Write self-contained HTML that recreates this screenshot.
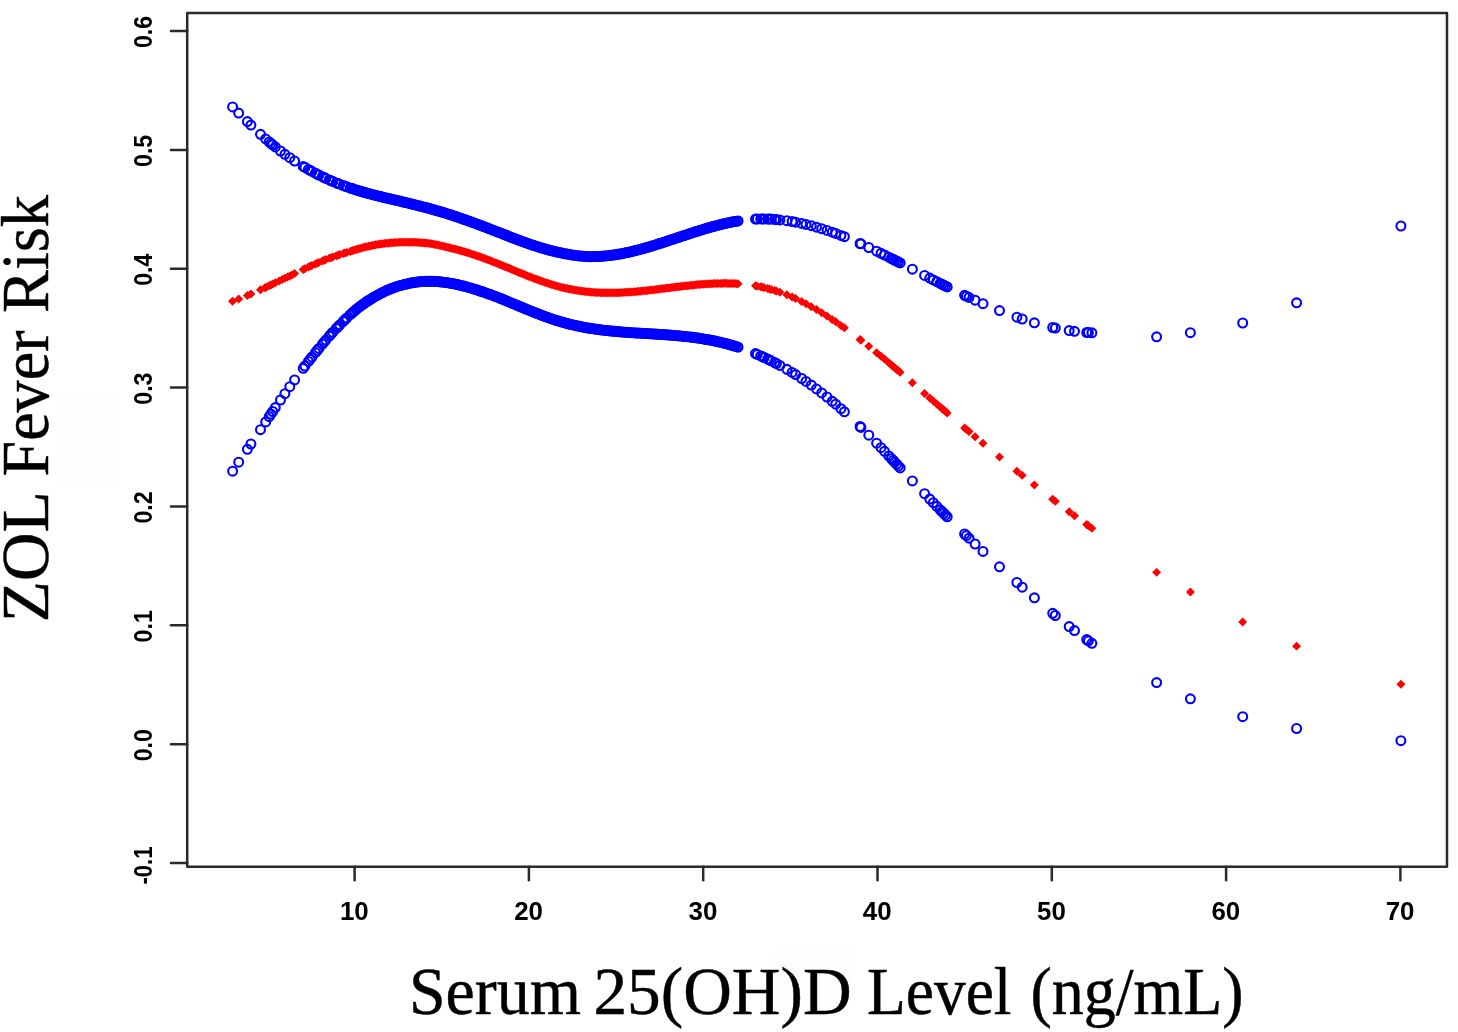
<!DOCTYPE html>
<html><head><meta charset="utf-8"><title>ZOL Fever Risk vs Serum 25(OH)D Level</title>
<style>
html,body{margin:0;padding:0;background:#fff;}
body{width:1458px;height:1032px;overflow:hidden;position:relative;}
svg{position:absolute;left:0;top:0;display:block;}
.tick{font-family:"Liberation Sans",Arial,sans-serif;font-weight:bold;font-size:25px;fill:#000;}
.ax{font-family:"Liberation Serif","Times New Roman",serif;fill:#000;stroke:#000;stroke-width:0.45px;}
</style></head><body>
<svg width="1458" height="1032" viewBox="0 0 1458 1032">
<rect width="1458" height="1032" fill="#fff"/>
<rect x="62" y="394.2" width="54" height="91.6" fill="#fdfdfd"/>
<rect x="772.5" y="950" width="80.7" height="57.7" fill="#fdfdfd"/>
<g fill="none" stroke="#2a2a2a" stroke-width="2.5" stroke-linejoin="round" stroke-linecap="round">
<rect x="187.2" y="13.05" width="1259.8" height="853.75"/>
<line x1="171.0" y1="863.1" x2="187.2" y2="863.1"/><line x1="171.0" y1="744.2" x2="187.2" y2="744.2"/><line x1="171.0" y1="625.3" x2="187.2" y2="625.3"/><line x1="171.0" y1="506.5" x2="187.2" y2="506.5"/><line x1="171.0" y1="387.6" x2="187.2" y2="387.6"/><line x1="171.0" y1="268.7" x2="187.2" y2="268.7"/><line x1="171.0" y1="149.9" x2="187.2" y2="149.9"/><line x1="171.0" y1="31.0" x2="187.2" y2="31.0"/><line x1="354.6" y1="866.8" x2="354.6" y2="880.2"/><line x1="528.9" y1="866.8" x2="528.9" y2="880.2"/><line x1="703.2" y1="866.8" x2="703.2" y2="880.2"/><line x1="877.5" y1="866.8" x2="877.5" y2="880.2"/><line x1="1051.8" y1="866.8" x2="1051.8" y2="880.2"/><line x1="1226.1" y1="866.8" x2="1226.1" y2="880.2"/><line x1="1400.4" y1="866.8" x2="1400.4" y2="880.2"/>
</g>
<g class="tick"><text transform="translate(152 865.5) rotate(-90)" text-anchor="middle" textLength="38.0" lengthAdjust="spacingAndGlyphs">-0.1</text><text transform="translate(152 745.2) rotate(-90)" text-anchor="middle" textLength="32.2" lengthAdjust="spacingAndGlyphs">0.0</text><text transform="translate(152 626.3) rotate(-90)" text-anchor="middle" textLength="32.2" lengthAdjust="spacingAndGlyphs">0.1</text><text transform="translate(152 507.5) rotate(-90)" text-anchor="middle" textLength="32.2" lengthAdjust="spacingAndGlyphs">0.2</text><text transform="translate(152 388.6) rotate(-90)" text-anchor="middle" textLength="32.2" lengthAdjust="spacingAndGlyphs">0.3</text><text transform="translate(152 269.7) rotate(-90)" text-anchor="middle" textLength="32.2" lengthAdjust="spacingAndGlyphs">0.4</text><text transform="translate(152 150.9) rotate(-90)" text-anchor="middle" textLength="32.2" lengthAdjust="spacingAndGlyphs">0.5</text><text transform="translate(152 32.0) rotate(-90)" text-anchor="middle" textLength="32.2" lengthAdjust="spacingAndGlyphs">0.6</text><text x="354.3" y="920" text-anchor="middle" textLength="28.8" lengthAdjust="spacingAndGlyphs">10</text><text x="528.6" y="920" text-anchor="middle" textLength="28.8" lengthAdjust="spacingAndGlyphs">20</text><text x="702.9" y="920" text-anchor="middle" textLength="28.8" lengthAdjust="spacingAndGlyphs">30</text><text x="877.2" y="920" text-anchor="middle" textLength="28.8" lengthAdjust="spacingAndGlyphs">40</text><text x="1051.5" y="920" text-anchor="middle" textLength="28.8" lengthAdjust="spacingAndGlyphs">50</text><text x="1225.8" y="920" text-anchor="middle" textLength="28.8" lengthAdjust="spacingAndGlyphs">60</text><text x="1400.1" y="920" text-anchor="middle" textLength="28.8" lengthAdjust="spacingAndGlyphs">70</text></g>
<g fill="none" stroke="#0000ff" stroke-width="2.1"><circle cx="232.6" cy="106.9" r="4.45"/><circle cx="238.7" cy="113.1" r="4.45"/><circle cx="247.4" cy="121.6" r="4.45"/><circle cx="250.9" cy="125.1" r="4.45"/><circle cx="260.5" cy="134.3" r="4.45"/><circle cx="265.7" cy="138.9" r="4.45"/><circle cx="269.2" cy="141.9" r="4.45"/><circle cx="270.9" cy="143.4" r="4.45"/><circle cx="272.7" cy="144.8" r="4.45"/><circle cx="275.3" cy="146.9" r="4.45"/><circle cx="280.5" cy="151.0" r="4.45"/><circle cx="284.9" cy="154.3" r="4.45"/><circle cx="289.8" cy="157.7" r="4.45"/><circle cx="294.6" cy="161.0" r="4.45"/><circle cx="303.2" cy="166.4" r="4.45"/><circle cx="304.9" cy="167.4" r="4.45"/><circle cx="308.4" cy="169.4" r="4.45"/><circle cx="310.2" cy="170.4" r="4.45"/><circle cx="311.9" cy="171.4" r="4.45"/><circle cx="315.4" cy="173.2" r="4.45"/><circle cx="317.1" cy="174.1" r="4.45"/><circle cx="318.9" cy="175.0" r="4.45"/><circle cx="322.4" cy="176.7" r="4.45"/><circle cx="324.1" cy="177.5" r="4.45"/><circle cx="325.8" cy="178.4" r="4.45"/><circle cx="329.3" cy="179.9" r="4.45"/><circle cx="331.1" cy="180.7" r="4.45"/><circle cx="332.8" cy="181.4" r="4.45"/><circle cx="336.3" cy="182.9" r="4.45"/><circle cx="338.0" cy="183.5" r="4.45"/><circle cx="339.8" cy="184.2" r="4.45"/><circle cx="343.3" cy="185.5" r="4.45"/><circle cx="345.0" cy="186.2" r="4.45"/><circle cx="346.8" cy="186.8" r="4.45"/><circle cx="350.2" cy="188.0" r="4.45"/><circle cx="352.0" cy="188.6" r="4.45"/><circle cx="352.9" cy="188.8" r="4.45"/><circle cx="354.6" cy="189.4" r="4.45"/><circle cx="356.3" cy="189.9" r="4.45"/><circle cx="358.1" cy="190.5" r="4.45"/><circle cx="359.8" cy="191.0" r="4.45"/><circle cx="361.6" cy="191.5" r="4.45"/><circle cx="363.3" cy="192.0" r="4.45"/><circle cx="365.1" cy="192.5" r="4.45"/><circle cx="366.8" cy="193.0" r="4.45"/><circle cx="368.5" cy="193.5" r="4.45"/><circle cx="370.3" cy="193.9" r="4.45"/><circle cx="372.0" cy="194.4" r="4.45"/><circle cx="373.8" cy="194.9" r="4.45"/><circle cx="375.5" cy="195.3" r="4.45"/><circle cx="377.3" cy="195.7" r="4.45"/><circle cx="379.0" cy="196.2" r="4.45"/><circle cx="380.7" cy="196.6" r="4.45"/><circle cx="382.5" cy="197.0" r="4.45"/><circle cx="384.2" cy="197.5" r="4.45"/><circle cx="386.0" cy="197.9" r="4.45"/><circle cx="387.7" cy="198.3" r="4.45"/><circle cx="389.5" cy="198.7" r="4.45"/><circle cx="391.2" cy="199.1" r="4.45"/><circle cx="392.9" cy="199.5" r="4.45"/><circle cx="394.7" cy="199.9" r="4.45"/><circle cx="396.4" cy="200.3" r="4.45"/><circle cx="398.2" cy="200.7" r="4.45"/><circle cx="399.9" cy="201.1" r="4.45"/><circle cx="401.7" cy="201.5" r="4.45"/><circle cx="403.4" cy="202.0" r="4.45"/><circle cx="405.1" cy="202.4" r="4.45"/><circle cx="406.9" cy="202.8" r="4.45"/><circle cx="408.6" cy="203.2" r="4.45"/><circle cx="410.4" cy="203.7" r="4.45"/><circle cx="412.1" cy="204.1" r="4.45"/><circle cx="413.9" cy="204.5" r="4.45"/><circle cx="415.6" cy="204.9" r="4.45"/><circle cx="417.3" cy="205.4" r="4.45"/><circle cx="419.1" cy="205.8" r="4.45"/><circle cx="420.8" cy="206.3" r="4.45"/><circle cx="422.6" cy="206.7" r="4.45"/><circle cx="424.3" cy="207.2" r="4.45"/><circle cx="426.1" cy="207.6" r="4.45"/><circle cx="427.8" cy="208.1" r="4.45"/><circle cx="429.5" cy="208.6" r="4.45"/><circle cx="431.3" cy="209.1" r="4.45"/><circle cx="433.0" cy="209.6" r="4.45"/><circle cx="434.8" cy="210.0" r="4.45"/><circle cx="436.5" cy="210.5" r="4.45"/><circle cx="438.3" cy="211.0" r="4.45"/><circle cx="440.0" cy="211.6" r="4.45"/><circle cx="441.8" cy="212.1" r="4.45"/><circle cx="443.5" cy="212.6" r="4.45"/><circle cx="445.2" cy="213.1" r="4.45"/><circle cx="447.0" cy="213.7" r="4.45"/><circle cx="448.7" cy="214.2" r="4.45"/><circle cx="450.5" cy="214.8" r="4.45"/><circle cx="452.2" cy="215.3" r="4.45"/><circle cx="454.0" cy="215.9" r="4.45"/><circle cx="455.7" cy="216.5" r="4.45"/><circle cx="457.4" cy="217.1" r="4.45"/><circle cx="459.2" cy="217.7" r="4.45"/><circle cx="460.9" cy="218.3" r="4.45"/><circle cx="462.7" cy="218.9" r="4.45"/><circle cx="464.4" cy="219.5" r="4.45"/><circle cx="466.2" cy="220.1" r="4.45"/><circle cx="467.9" cy="220.7" r="4.45"/><circle cx="469.6" cy="221.3" r="4.45"/><circle cx="471.4" cy="222.0" r="4.45"/><circle cx="473.1" cy="222.6" r="4.45"/><circle cx="474.9" cy="223.2" r="4.45"/><circle cx="476.6" cy="223.9" r="4.45"/><circle cx="478.4" cy="224.5" r="4.45"/><circle cx="480.1" cy="225.2" r="4.45"/><circle cx="481.8" cy="225.8" r="4.45"/><circle cx="483.6" cy="226.5" r="4.45"/><circle cx="485.3" cy="227.2" r="4.45"/><circle cx="487.1" cy="227.8" r="4.45"/><circle cx="488.8" cy="228.5" r="4.45"/><circle cx="490.6" cy="229.2" r="4.45"/><circle cx="492.3" cy="229.9" r="4.45"/><circle cx="494.0" cy="230.5" r="4.45"/><circle cx="495.8" cy="231.2" r="4.45"/><circle cx="497.5" cy="231.9" r="4.45"/><circle cx="499.3" cy="232.6" r="4.45"/><circle cx="501.0" cy="233.2" r="4.45"/><circle cx="502.8" cy="233.9" r="4.45"/><circle cx="504.5" cy="234.6" r="4.45"/><circle cx="506.2" cy="235.3" r="4.45"/><circle cx="508.0" cy="236.0" r="4.45"/><circle cx="509.7" cy="236.7" r="4.45"/><circle cx="511.5" cy="237.4" r="4.45"/><circle cx="513.2" cy="238.0" r="4.45"/><circle cx="515.0" cy="238.7" r="4.45"/><circle cx="516.7" cy="239.4" r="4.45"/><circle cx="518.4" cy="240.0" r="4.45"/><circle cx="520.2" cy="240.7" r="4.45"/><circle cx="521.9" cy="241.3" r="4.45"/><circle cx="523.7" cy="241.9" r="4.45"/><circle cx="525.4" cy="242.6" r="4.45"/><circle cx="527.2" cy="243.2" r="4.45"/><circle cx="528.9" cy="243.8" r="4.45"/><circle cx="530.6" cy="244.4" r="4.45"/><circle cx="532.4" cy="245.0" r="4.45"/><circle cx="534.1" cy="245.6" r="4.45"/><circle cx="535.9" cy="246.2" r="4.45"/><circle cx="537.6" cy="246.7" r="4.45"/><circle cx="539.4" cy="247.3" r="4.45"/><circle cx="541.1" cy="247.8" r="4.45"/><circle cx="542.8" cy="248.3" r="4.45"/><circle cx="544.6" cy="248.8" r="4.45"/><circle cx="546.3" cy="249.3" r="4.45"/><circle cx="548.1" cy="249.8" r="4.45"/><circle cx="549.8" cy="250.3" r="4.45"/><circle cx="551.6" cy="250.7" r="4.45"/><circle cx="553.3" cy="251.1" r="4.45"/><circle cx="555.0" cy="251.6" r="4.45"/><circle cx="556.8" cy="252.0" r="4.45"/><circle cx="558.5" cy="252.3" r="4.45"/><circle cx="560.3" cy="252.7" r="4.45"/><circle cx="562.0" cy="253.1" r="4.45"/><circle cx="563.8" cy="253.5" r="4.45"/><circle cx="565.5" cy="253.8" r="4.45"/><circle cx="567.2" cy="254.1" r="4.45"/><circle cx="569.0" cy="254.4" r="4.45"/><circle cx="570.7" cy="254.7" r="4.45"/><circle cx="572.5" cy="255.0" r="4.45"/><circle cx="574.2" cy="255.2" r="4.45"/><circle cx="576.0" cy="255.5" r="4.45"/><circle cx="577.7" cy="255.7" r="4.45"/><circle cx="579.4" cy="255.9" r="4.45"/><circle cx="581.2" cy="256.1" r="4.45"/><circle cx="582.9" cy="256.2" r="4.45"/><circle cx="584.7" cy="256.4" r="4.45"/><circle cx="586.4" cy="256.5" r="4.45"/><circle cx="588.2" cy="256.6" r="4.45"/><circle cx="589.9" cy="256.7" r="4.45"/><circle cx="591.6" cy="256.7" r="4.45"/><circle cx="593.4" cy="256.6" r="4.45"/><circle cx="595.1" cy="256.6" r="4.45"/><circle cx="596.9" cy="256.5" r="4.45"/><circle cx="598.6" cy="256.4" r="4.45"/><circle cx="600.4" cy="256.3" r="4.45"/><circle cx="602.1" cy="256.2" r="4.45"/><circle cx="603.8" cy="256.1" r="4.45"/><circle cx="605.6" cy="255.9" r="4.45"/><circle cx="607.3" cy="255.7" r="4.45"/><circle cx="609.1" cy="255.5" r="4.45"/><circle cx="610.8" cy="255.3" r="4.45"/><circle cx="612.6" cy="255.1" r="4.45"/><circle cx="614.3" cy="254.9" r="4.45"/><circle cx="616.0" cy="254.6" r="4.45"/><circle cx="617.8" cy="254.3" r="4.45"/><circle cx="619.5" cy="254.0" r="4.45"/><circle cx="621.3" cy="253.7" r="4.45"/><circle cx="623.0" cy="253.4" r="4.45"/><circle cx="624.8" cy="253.0" r="4.45"/><circle cx="626.5" cy="252.6" r="4.45"/><circle cx="628.3" cy="252.3" r="4.45"/><circle cx="630.0" cy="251.9" r="4.45"/><circle cx="631.7" cy="251.5" r="4.45"/><circle cx="633.5" cy="251.1" r="4.45"/><circle cx="635.2" cy="250.6" r="4.45"/><circle cx="637.0" cy="250.2" r="4.45"/><circle cx="638.7" cy="249.7" r="4.45"/><circle cx="640.5" cy="249.3" r="4.45"/><circle cx="642.2" cy="248.8" r="4.45"/><circle cx="643.9" cy="248.3" r="4.45"/><circle cx="645.7" cy="247.8" r="4.45"/><circle cx="647.4" cy="247.3" r="4.45"/><circle cx="649.2" cy="246.8" r="4.45"/><circle cx="650.9" cy="246.3" r="4.45"/><circle cx="652.7" cy="245.7" r="4.45"/><circle cx="654.4" cy="245.2" r="4.45"/><circle cx="656.1" cy="244.7" r="4.45"/><circle cx="657.9" cy="244.1" r="4.45"/><circle cx="659.6" cy="243.6" r="4.45"/><circle cx="661.4" cy="243.0" r="4.45"/><circle cx="663.1" cy="242.4" r="4.45"/><circle cx="664.9" cy="241.9" r="4.45"/><circle cx="666.6" cy="241.3" r="4.45"/><circle cx="668.3" cy="240.7" r="4.45"/><circle cx="670.1" cy="240.2" r="4.45"/><circle cx="671.8" cy="239.6" r="4.45"/><circle cx="673.6" cy="239.0" r="4.45"/><circle cx="675.3" cy="238.4" r="4.45"/><circle cx="677.1" cy="237.8" r="4.45"/><circle cx="678.8" cy="237.3" r="4.45"/><circle cx="680.5" cy="236.7" r="4.45"/><circle cx="682.3" cy="236.1" r="4.45"/><circle cx="684.0" cy="235.5" r="4.45"/><circle cx="685.8" cy="234.9" r="4.45"/><circle cx="687.5" cy="234.4" r="4.45"/><circle cx="689.3" cy="233.8" r="4.45"/><circle cx="691.0" cy="233.2" r="4.45"/><circle cx="692.7" cy="232.7" r="4.45"/><circle cx="694.5" cy="232.1" r="4.45"/><circle cx="696.2" cy="231.5" r="4.45"/><circle cx="698.0" cy="231.0" r="4.45"/><circle cx="699.7" cy="230.4" r="4.45"/><circle cx="701.5" cy="229.9" r="4.45"/><circle cx="703.2" cy="229.4" r="4.45"/><circle cx="704.9" cy="228.8" r="4.45"/><circle cx="706.7" cy="228.3" r="4.45"/><circle cx="708.4" cy="227.8" r="4.45"/><circle cx="710.2" cy="227.3" r="4.45"/><circle cx="711.9" cy="226.8" r="4.45"/><circle cx="713.7" cy="226.3" r="4.45"/><circle cx="715.4" cy="225.9" r="4.45"/><circle cx="717.1" cy="225.4" r="4.45"/><circle cx="718.9" cy="225.0" r="4.45"/><circle cx="720.6" cy="224.5" r="4.45"/><circle cx="722.4" cy="224.1" r="4.45"/><circle cx="724.1" cy="223.7" r="4.45"/><circle cx="725.9" cy="223.3" r="4.45"/><circle cx="727.6" cy="222.9" r="4.45"/><circle cx="729.3" cy="222.5" r="4.45"/><circle cx="731.1" cy="222.2" r="4.45"/><circle cx="732.8" cy="221.8" r="4.45"/><circle cx="734.6" cy="221.5" r="4.45"/><circle cx="736.3" cy="221.2" r="4.45"/><circle cx="738.1" cy="220.9" r="4.45"/><circle cx="755.5" cy="219.1" r="4.45"/><circle cx="757.2" cy="219.0" r="4.45"/><circle cx="760.7" cy="218.9" r="4.45"/><circle cx="762.5" cy="218.9" r="4.45"/><circle cx="764.2" cy="218.9" r="4.45"/><circle cx="767.7" cy="219.0" r="4.45"/><circle cx="769.4" cy="219.1" r="4.45"/><circle cx="771.2" cy="219.1" r="4.45"/><circle cx="774.7" cy="219.4" r="4.45"/><circle cx="776.4" cy="219.5" r="4.45"/><circle cx="779.9" cy="219.9" r="4.45"/><circle cx="786.9" cy="220.7" r="4.45"/><circle cx="792.1" cy="221.5" r="4.45"/><circle cx="795.6" cy="222.2" r="4.45"/><circle cx="801.7" cy="223.4" r="4.45"/><circle cx="806.0" cy="224.4" r="4.45"/><circle cx="811.3" cy="225.7" r="4.45"/><circle cx="816.5" cy="227.2" r="4.45"/><circle cx="821.7" cy="228.7" r="4.45"/><circle cx="827.0" cy="230.4" r="4.45"/><circle cx="832.2" cy="232.2" r="4.45"/><circle cx="835.7" cy="233.4" r="4.45"/><circle cx="840.9" cy="235.4" r="4.45"/><circle cx="844.4" cy="236.7" r="4.45"/><circle cx="860.1" cy="243.5" r="4.45"/><circle cx="860.9" cy="243.8" r="4.45"/><circle cx="868.8" cy="247.5" r="4.45"/><circle cx="876.6" cy="251.2" r="4.45"/><circle cx="881.0" cy="253.3" r="4.45"/><circle cx="884.5" cy="255.0" r="4.45"/><circle cx="888.8" cy="257.2" r="4.45"/><circle cx="891.4" cy="258.5" r="4.45"/><circle cx="893.2" cy="259.4" r="4.45"/><circle cx="894.9" cy="260.3" r="4.45"/><circle cx="896.7" cy="261.1" r="4.45"/><circle cx="898.4" cy="262.0" r="4.45"/><circle cx="900.2" cy="262.9" r="4.45"/><circle cx="912.4" cy="269.2" r="4.45"/><circle cx="924.6" cy="275.4" r="4.45"/><circle cx="929.8" cy="278.1" r="4.45"/><circle cx="933.3" cy="279.9" r="4.45"/><circle cx="936.8" cy="281.7" r="4.45"/><circle cx="940.2" cy="283.4" r="4.45"/><circle cx="942.0" cy="284.3" r="4.45"/><circle cx="943.7" cy="285.2" r="4.45"/><circle cx="945.5" cy="286.0" r="4.45"/><circle cx="947.2" cy="286.9" r="4.45"/><circle cx="964.6" cy="295.3" r="4.45"/><circle cx="966.4" cy="296.2" r="4.45"/><circle cx="969.0" cy="297.4" r="4.45"/><circle cx="975.1" cy="300.2" r="4.45"/><circle cx="983.0" cy="303.7" r="4.45"/><circle cx="999.5" cy="310.6" r="4.45"/><circle cx="1016.9" cy="317.2" r="4.45"/><circle cx="1022.2" cy="319.0" r="4.45"/><circle cx="1034.4" cy="322.8" r="4.45"/><circle cx="1052.7" cy="327.5" r="4.45"/><circle cx="1055.3" cy="328.1" r="4.45"/><circle cx="1069.2" cy="330.6" r="4.45"/><circle cx="1074.5" cy="331.3" r="4.45"/><circle cx="1086.7" cy="332.5" r="4.45"/><circle cx="1088.4" cy="332.6" r="4.45"/><circle cx="1091.9" cy="332.8" r="4.45"/><circle cx="1156.6" cy="336.8" r="4.45"/><circle cx="1190.4" cy="332.7" r="4.45"/><circle cx="1242.7" cy="323.0" r="4.45"/><circle cx="1296.6" cy="302.8" r="4.45"/><circle cx="1400.9" cy="226.0" r="4.45"/></g>
<g fill="none" stroke="#0000ff" stroke-width="2.1"><circle cx="232.6" cy="471.2" r="4.45"/><circle cx="238.7" cy="462.2" r="4.45"/><circle cx="247.4" cy="449.3" r="4.45"/><circle cx="250.9" cy="444.0" r="4.45"/><circle cx="260.5" cy="429.7" r="4.45"/><circle cx="265.7" cy="421.9" r="4.45"/><circle cx="269.2" cy="416.7" r="4.45"/><circle cx="270.9" cy="414.1" r="4.45"/><circle cx="272.7" cy="411.5" r="4.45"/><circle cx="275.3" cy="407.6" r="4.45"/><circle cx="280.5" cy="400.0" r="4.45"/><circle cx="284.9" cy="393.7" r="4.45"/><circle cx="289.8" cy="386.7" r="4.45"/><circle cx="294.6" cy="379.9" r="4.45"/><circle cx="303.2" cy="368.3" r="4.45"/><circle cx="304.9" cy="366.0" r="4.45"/><circle cx="308.4" cy="361.4" r="4.45"/><circle cx="310.2" cy="359.2" r="4.45"/><circle cx="311.9" cy="357.0" r="4.45"/><circle cx="315.4" cy="352.6" r="4.45"/><circle cx="317.1" cy="350.5" r="4.45"/><circle cx="318.9" cy="348.4" r="4.45"/><circle cx="322.4" cy="344.2" r="4.45"/><circle cx="324.1" cy="342.1" r="4.45"/><circle cx="325.8" cy="340.1" r="4.45"/><circle cx="329.3" cy="336.1" r="4.45"/><circle cx="331.1" cy="334.1" r="4.45"/><circle cx="332.8" cy="332.2" r="4.45"/><circle cx="336.3" cy="328.4" r="4.45"/><circle cx="338.0" cy="326.6" r="4.45"/><circle cx="339.8" cy="324.8" r="4.45"/><circle cx="343.3" cy="321.3" r="4.45"/><circle cx="345.0" cy="319.6" r="4.45"/><circle cx="346.8" cy="317.9" r="4.45"/><circle cx="350.2" cy="314.7" r="4.45"/><circle cx="352.0" cy="313.1" r="4.45"/><circle cx="352.9" cy="312.3" r="4.45"/><circle cx="354.6" cy="310.8" r="4.45"/><circle cx="356.3" cy="309.3" r="4.45"/><circle cx="358.1" cy="307.9" r="4.45"/><circle cx="359.8" cy="306.6" r="4.45"/><circle cx="361.6" cy="305.3" r="4.45"/><circle cx="363.3" cy="304.0" r="4.45"/><circle cx="365.1" cy="302.8" r="4.45"/><circle cx="366.8" cy="301.6" r="4.45"/><circle cx="368.5" cy="300.5" r="4.45"/><circle cx="370.3" cy="299.4" r="4.45"/><circle cx="372.0" cy="298.3" r="4.45"/><circle cx="373.8" cy="297.2" r="4.45"/><circle cx="375.5" cy="296.2" r="4.45"/><circle cx="377.3" cy="295.3" r="4.45"/><circle cx="379.0" cy="294.4" r="4.45"/><circle cx="380.7" cy="293.4" r="4.45"/><circle cx="382.5" cy="292.5" r="4.45"/><circle cx="384.2" cy="291.7" r="4.45"/><circle cx="386.0" cy="290.8" r="4.45"/><circle cx="387.7" cy="290.0" r="4.45"/><circle cx="389.5" cy="289.3" r="4.45"/><circle cx="391.2" cy="288.6" r="4.45"/><circle cx="392.9" cy="287.9" r="4.45"/><circle cx="394.7" cy="287.3" r="4.45"/><circle cx="396.4" cy="286.7" r="4.45"/><circle cx="398.2" cy="286.2" r="4.45"/><circle cx="399.9" cy="285.6" r="4.45"/><circle cx="401.7" cy="285.2" r="4.45"/><circle cx="403.4" cy="284.7" r="4.45"/><circle cx="405.1" cy="284.3" r="4.45"/><circle cx="406.9" cy="283.9" r="4.45"/><circle cx="408.6" cy="283.5" r="4.45"/><circle cx="410.4" cy="283.1" r="4.45"/><circle cx="412.1" cy="282.8" r="4.45"/><circle cx="413.9" cy="282.5" r="4.45"/><circle cx="415.6" cy="282.2" r="4.45"/><circle cx="417.3" cy="282.0" r="4.45"/><circle cx="419.1" cy="281.8" r="4.45"/><circle cx="420.8" cy="281.6" r="4.45"/><circle cx="422.6" cy="281.5" r="4.45"/><circle cx="424.3" cy="281.4" r="4.45"/><circle cx="426.1" cy="281.3" r="4.45"/><circle cx="427.8" cy="281.3" r="4.45"/><circle cx="429.5" cy="281.3" r="4.45"/><circle cx="431.3" cy="281.3" r="4.45"/><circle cx="433.0" cy="281.3" r="4.45"/><circle cx="434.8" cy="281.4" r="4.45"/><circle cx="436.5" cy="281.5" r="4.45"/><circle cx="438.3" cy="281.6" r="4.45"/><circle cx="440.0" cy="281.8" r="4.45"/><circle cx="441.8" cy="282.0" r="4.45"/><circle cx="443.5" cy="282.2" r="4.45"/><circle cx="445.2" cy="282.4" r="4.45"/><circle cx="447.0" cy="282.6" r="4.45"/><circle cx="448.7" cy="282.9" r="4.45"/><circle cx="450.5" cy="283.2" r="4.45"/><circle cx="452.2" cy="283.5" r="4.45"/><circle cx="454.0" cy="283.8" r="4.45"/><circle cx="455.7" cy="284.2" r="4.45"/><circle cx="457.4" cy="284.6" r="4.45"/><circle cx="459.2" cy="285.0" r="4.45"/><circle cx="460.9" cy="285.4" r="4.45"/><circle cx="462.7" cy="285.8" r="4.45"/><circle cx="464.4" cy="286.3" r="4.45"/><circle cx="466.2" cy="286.7" r="4.45"/><circle cx="467.9" cy="287.2" r="4.45"/><circle cx="469.6" cy="287.7" r="4.45"/><circle cx="471.4" cy="288.2" r="4.45"/><circle cx="473.1" cy="288.7" r="4.45"/><circle cx="474.9" cy="289.3" r="4.45"/><circle cx="476.6" cy="289.8" r="4.45"/><circle cx="478.4" cy="290.4" r="4.45"/><circle cx="480.1" cy="291.0" r="4.45"/><circle cx="481.8" cy="291.5" r="4.45"/><circle cx="483.6" cy="292.1" r="4.45"/><circle cx="485.3" cy="292.7" r="4.45"/><circle cx="487.1" cy="293.4" r="4.45"/><circle cx="488.8" cy="294.0" r="4.45"/><circle cx="490.6" cy="294.6" r="4.45"/><circle cx="492.3" cy="295.2" r="4.45"/><circle cx="494.0" cy="295.9" r="4.45"/><circle cx="495.8" cy="296.5" r="4.45"/><circle cx="497.5" cy="297.2" r="4.45"/><circle cx="499.3" cy="297.9" r="4.45"/><circle cx="501.0" cy="298.6" r="4.45"/><circle cx="502.8" cy="299.3" r="4.45"/><circle cx="504.5" cy="300.0" r="4.45"/><circle cx="506.2" cy="300.7" r="4.45"/><circle cx="508.0" cy="301.5" r="4.45"/><circle cx="509.7" cy="302.2" r="4.45"/><circle cx="511.5" cy="302.9" r="4.45"/><circle cx="513.2" cy="303.7" r="4.45"/><circle cx="515.0" cy="304.4" r="4.45"/><circle cx="516.7" cy="305.1" r="4.45"/><circle cx="518.4" cy="305.9" r="4.45"/><circle cx="520.2" cy="306.6" r="4.45"/><circle cx="521.9" cy="307.3" r="4.45"/><circle cx="523.7" cy="308.0" r="4.45"/><circle cx="525.4" cy="308.8" r="4.45"/><circle cx="527.2" cy="309.5" r="4.45"/><circle cx="528.9" cy="310.2" r="4.45"/><circle cx="530.6" cy="310.9" r="4.45"/><circle cx="532.4" cy="311.6" r="4.45"/><circle cx="534.1" cy="312.3" r="4.45"/><circle cx="535.9" cy="313.0" r="4.45"/><circle cx="537.6" cy="313.7" r="4.45"/><circle cx="539.4" cy="314.3" r="4.45"/><circle cx="541.1" cy="315.0" r="4.45"/><circle cx="542.8" cy="315.7" r="4.45"/><circle cx="544.6" cy="316.3" r="4.45"/><circle cx="546.3" cy="316.9" r="4.45"/><circle cx="548.1" cy="317.6" r="4.45"/><circle cx="549.8" cy="318.2" r="4.45"/><circle cx="551.6" cy="318.8" r="4.45"/><circle cx="553.3" cy="319.4" r="4.45"/><circle cx="555.0" cy="319.9" r="4.45"/><circle cx="556.8" cy="320.5" r="4.45"/><circle cx="558.5" cy="321.0" r="4.45"/><circle cx="560.3" cy="321.6" r="4.45"/><circle cx="562.0" cy="322.1" r="4.45"/><circle cx="563.8" cy="322.6" r="4.45"/><circle cx="565.5" cy="323.0" r="4.45"/><circle cx="567.2" cy="323.5" r="4.45"/><circle cx="569.0" cy="324.0" r="4.45"/><circle cx="570.7" cy="324.4" r="4.45"/><circle cx="572.5" cy="324.8" r="4.45"/><circle cx="574.2" cy="325.2" r="4.45"/><circle cx="576.0" cy="325.6" r="4.45"/><circle cx="577.7" cy="326.0" r="4.45"/><circle cx="579.4" cy="326.3" r="4.45"/><circle cx="581.2" cy="326.7" r="4.45"/><circle cx="582.9" cy="327.0" r="4.45"/><circle cx="584.7" cy="327.4" r="4.45"/><circle cx="586.4" cy="327.7" r="4.45"/><circle cx="588.2" cy="328.0" r="4.45"/><circle cx="589.9" cy="328.3" r="4.45"/><circle cx="591.6" cy="328.5" r="4.45"/><circle cx="593.4" cy="328.8" r="4.45"/><circle cx="595.1" cy="329.1" r="4.45"/><circle cx="596.9" cy="329.3" r="4.45"/><circle cx="598.6" cy="329.5" r="4.45"/><circle cx="600.4" cy="329.8" r="4.45"/><circle cx="602.1" cy="330.0" r="4.45"/><circle cx="603.8" cy="330.2" r="4.45"/><circle cx="605.6" cy="330.4" r="4.45"/><circle cx="607.3" cy="330.6" r="4.45"/><circle cx="609.1" cy="330.8" r="4.45"/><circle cx="610.8" cy="331.0" r="4.45"/><circle cx="612.6" cy="331.1" r="4.45"/><circle cx="614.3" cy="331.3" r="4.45"/><circle cx="616.0" cy="331.5" r="4.45"/><circle cx="617.8" cy="331.6" r="4.45"/><circle cx="619.5" cy="331.8" r="4.45"/><circle cx="621.3" cy="331.9" r="4.45"/><circle cx="623.0" cy="332.0" r="4.45"/><circle cx="624.8" cy="332.2" r="4.45"/><circle cx="626.5" cy="332.3" r="4.45"/><circle cx="628.3" cy="332.4" r="4.45"/><circle cx="630.0" cy="332.5" r="4.45"/><circle cx="631.7" cy="332.7" r="4.45"/><circle cx="633.5" cy="332.8" r="4.45"/><circle cx="635.2" cy="332.9" r="4.45"/><circle cx="637.0" cy="333.0" r="4.45"/><circle cx="638.7" cy="333.1" r="4.45"/><circle cx="640.5" cy="333.2" r="4.45"/><circle cx="642.2" cy="333.3" r="4.45"/><circle cx="643.9" cy="333.4" r="4.45"/><circle cx="645.7" cy="333.5" r="4.45"/><circle cx="647.4" cy="333.6" r="4.45"/><circle cx="649.2" cy="333.7" r="4.45"/><circle cx="650.9" cy="333.8" r="4.45"/><circle cx="652.7" cy="333.9" r="4.45"/><circle cx="654.4" cy="334.0" r="4.45"/><circle cx="656.1" cy="334.1" r="4.45"/><circle cx="657.9" cy="334.3" r="4.45"/><circle cx="659.6" cy="334.4" r="4.45"/><circle cx="661.4" cy="334.5" r="4.45"/><circle cx="663.1" cy="334.6" r="4.45"/><circle cx="664.9" cy="334.7" r="4.45"/><circle cx="666.6" cy="334.8" r="4.45"/><circle cx="668.3" cy="335.0" r="4.45"/><circle cx="670.1" cy="335.1" r="4.45"/><circle cx="671.8" cy="335.2" r="4.45"/><circle cx="673.6" cy="335.4" r="4.45"/><circle cx="675.3" cy="335.5" r="4.45"/><circle cx="677.1" cy="335.7" r="4.45"/><circle cx="678.8" cy="335.8" r="4.45"/><circle cx="680.5" cy="336.0" r="4.45"/><circle cx="682.3" cy="336.2" r="4.45"/><circle cx="684.0" cy="336.4" r="4.45"/><circle cx="685.8" cy="336.5" r="4.45"/><circle cx="687.5" cy="336.7" r="4.45"/><circle cx="689.3" cy="336.9" r="4.45"/><circle cx="691.0" cy="337.1" r="4.45"/><circle cx="692.7" cy="337.4" r="4.45"/><circle cx="694.5" cy="337.6" r="4.45"/><circle cx="696.2" cy="337.8" r="4.45"/><circle cx="698.0" cy="338.1" r="4.45"/><circle cx="699.7" cy="338.3" r="4.45"/><circle cx="701.5" cy="338.6" r="4.45"/><circle cx="703.2" cy="338.9" r="4.45"/><circle cx="704.9" cy="339.2" r="4.45"/><circle cx="706.7" cy="339.5" r="4.45"/><circle cx="708.4" cy="339.8" r="4.45"/><circle cx="710.2" cy="340.1" r="4.45"/><circle cx="711.9" cy="340.4" r="4.45"/><circle cx="713.7" cy="340.8" r="4.45"/><circle cx="715.4" cy="341.1" r="4.45"/><circle cx="717.1" cy="341.5" r="4.45"/><circle cx="718.9" cy="341.9" r="4.45"/><circle cx="720.6" cy="342.3" r="4.45"/><circle cx="722.4" cy="342.7" r="4.45"/><circle cx="724.1" cy="343.2" r="4.45"/><circle cx="725.9" cy="343.6" r="4.45"/><circle cx="727.6" cy="344.1" r="4.45"/><circle cx="729.3" cy="344.5" r="4.45"/><circle cx="731.1" cy="345.0" r="4.45"/><circle cx="732.8" cy="345.6" r="4.45"/><circle cx="734.6" cy="346.1" r="4.45"/><circle cx="736.3" cy="346.6" r="4.45"/><circle cx="738.1" cy="347.2" r="4.45"/><circle cx="755.5" cy="353.6" r="4.45"/><circle cx="757.2" cy="354.4" r="4.45"/><circle cx="760.7" cy="355.9" r="4.45"/><circle cx="762.5" cy="356.7" r="4.45"/><circle cx="764.2" cy="357.5" r="4.45"/><circle cx="767.7" cy="359.1" r="4.45"/><circle cx="769.4" cy="359.9" r="4.45"/><circle cx="771.2" cy="360.8" r="4.45"/><circle cx="774.7" cy="362.6" r="4.45"/><circle cx="776.4" cy="363.5" r="4.45"/><circle cx="779.9" cy="365.4" r="4.45"/><circle cx="786.9" cy="369.3" r="4.45"/><circle cx="792.1" cy="372.4" r="4.45"/><circle cx="795.6" cy="374.6" r="4.45"/><circle cx="801.7" cy="378.5" r="4.45"/><circle cx="806.0" cy="381.4" r="4.45"/><circle cx="811.3" cy="385.1" r="4.45"/><circle cx="816.5" cy="388.9" r="4.45"/><circle cx="821.7" cy="392.9" r="4.45"/><circle cx="827.0" cy="397.0" r="4.45"/><circle cx="832.2" cy="401.3" r="4.45"/><circle cx="835.7" cy="404.2" r="4.45"/><circle cx="840.9" cy="408.7" r="4.45"/><circle cx="844.4" cy="411.8" r="4.45"/><circle cx="860.1" cy="426.5" r="4.45"/><circle cx="860.9" cy="427.4" r="4.45"/><circle cx="868.8" cy="435.2" r="4.45"/><circle cx="876.6" cy="443.2" r="4.45"/><circle cx="881.0" cy="447.7" r="4.45"/><circle cx="884.5" cy="451.3" r="4.45"/><circle cx="888.8" cy="455.9" r="4.45"/><circle cx="891.4" cy="458.7" r="4.45"/><circle cx="893.2" cy="460.5" r="4.45"/><circle cx="894.9" cy="462.3" r="4.45"/><circle cx="896.7" cy="464.2" r="4.45"/><circle cx="898.4" cy="466.1" r="4.45"/><circle cx="900.2" cy="467.9" r="4.45"/><circle cx="912.4" cy="480.9" r="4.45"/><circle cx="924.6" cy="493.7" r="4.45"/><circle cx="929.8" cy="499.1" r="4.45"/><circle cx="933.3" cy="502.7" r="4.45"/><circle cx="936.8" cy="506.3" r="4.45"/><circle cx="940.2" cy="509.8" r="4.45"/><circle cx="942.0" cy="511.6" r="4.45"/><circle cx="943.7" cy="513.3" r="4.45"/><circle cx="945.5" cy="515.1" r="4.45"/><circle cx="947.2" cy="516.8" r="4.45"/><circle cx="964.6" cy="534.0" r="4.45"/><circle cx="966.4" cy="535.7" r="4.45"/><circle cx="969.0" cy="538.2" r="4.45"/><circle cx="975.1" cy="544.0" r="4.45"/><circle cx="983.0" cy="551.4" r="4.45"/><circle cx="999.5" cy="566.8" r="4.45"/><circle cx="1016.9" cy="582.5" r="4.45"/><circle cx="1022.2" cy="587.2" r="4.45"/><circle cx="1034.4" cy="597.8" r="4.45"/><circle cx="1052.7" cy="613.3" r="4.45"/><circle cx="1055.3" cy="615.5" r="4.45"/><circle cx="1069.2" cy="626.6" r="4.45"/><circle cx="1074.5" cy="630.6" r="4.45"/><circle cx="1086.7" cy="639.6" r="4.45"/><circle cx="1088.4" cy="640.8" r="4.45"/><circle cx="1091.9" cy="643.3" r="4.45"/><circle cx="1156.6" cy="682.6" r="4.45"/><circle cx="1190.4" cy="698.8" r="4.45"/><circle cx="1242.7" cy="716.7" r="4.45"/><circle cx="1296.6" cy="728.5" r="4.45"/><circle cx="1400.9" cy="740.7" r="4.45"/></g>
<g fill="#ff0000" stroke="none" transform="rotate(45)"><rect x="374.2" y="45.3" width="6.36" height="6.36"/><rect x="377.0" y="39.4" width="6.36" height="6.36"/><rect x="380.7" y="30.8" width="6.36" height="6.36"/><rect x="382.1" y="27.3" width="6.36" height="6.36"/><rect x="385.9" y="17.5" width="6.36" height="6.36"/><rect x="387.6" y="13.0" width="6.36" height="6.36"/><rect x="388.2" y="11.2" width="6.36" height="6.36"/><rect x="389.2" y="8.5" width="6.36" height="6.36"/><rect x="389.9" y="6.7" width="6.36" height="6.36"/><rect x="390.5" y="4.9" width="6.36" height="6.36"/><rect x="391.5" y="2.1" width="6.36" height="6.36"/><rect x="392.9" y="-1.9" width="6.36" height="6.36"/><rect x="394.0" y="-5.1" width="6.36" height="6.36"/><rect x="395.0" y="-7.9" width="6.36" height="6.36"/><rect x="396.0" y="-10.6" width="6.36" height="6.36"/><rect x="396.8" y="-13.0" width="6.36" height="6.36"/><rect x="397.6" y="-15.2" width="6.36" height="6.36"/><rect x="398.6" y="-18.1" width="6.36" height="6.36"/><rect x="401.8" y="-27.0" width="6.36" height="6.36"/><rect x="402.4" y="-28.8" width="6.36" height="6.36"/><rect x="403.8" y="-32.4" width="6.36" height="6.36"/><rect x="404.5" y="-34.2" width="6.36" height="6.36"/><rect x="405.1" y="-36.0" width="6.36" height="6.36"/><rect x="406.5" y="-39.5" width="6.36" height="6.36"/><rect x="407.2" y="-41.3" width="6.36" height="6.36"/><rect x="407.9" y="-43.0" width="6.36" height="6.36"/><rect x="409.4" y="-46.5" width="6.36" height="6.36"/><rect x="410.1" y="-48.3" width="6.36" height="6.36"/><rect x="410.8" y="-50.0" width="6.36" height="6.36"/><rect x="412.3" y="-53.4" width="6.36" height="6.36"/><rect x="413.1" y="-55.1" width="6.36" height="6.36"/><rect x="413.9" y="-56.8" width="6.36" height="6.36"/><rect x="415.5" y="-60.1" width="6.36" height="6.36"/><rect x="416.3" y="-61.8" width="6.36" height="6.36"/><rect x="417.1" y="-63.4" width="6.36" height="6.36"/><rect x="418.8" y="-66.7" width="6.36" height="6.36"/><rect x="419.6" y="-68.3" width="6.36" height="6.36"/><rect x="420.5" y="-69.9" width="6.36" height="6.36"/><rect x="422.3" y="-73.0" width="6.36" height="6.36"/><rect x="423.1" y="-74.7" width="6.36" height="6.36"/><rect x="423.5" y="-75.5" width="6.36" height="6.36"/><rect x="424.4" y="-77.1" width="6.36" height="6.36"/><rect x="425.2" y="-78.7" width="6.36" height="6.36"/><rect x="426.1" y="-80.3" width="6.36" height="6.36"/><rect x="427.0" y="-81.9" width="6.36" height="6.36"/><rect x="427.9" y="-83.5" width="6.36" height="6.36"/><rect x="428.8" y="-85.0" width="6.36" height="6.36"/><rect x="429.7" y="-86.6" width="6.36" height="6.36"/><rect x="430.6" y="-88.1" width="6.36" height="6.36"/><rect x="431.6" y="-89.6" width="6.36" height="6.36"/><rect x="432.5" y="-91.1" width="6.36" height="6.36"/><rect x="433.5" y="-92.6" width="6.36" height="6.36"/><rect x="434.5" y="-94.1" width="6.36" height="6.36"/><rect x="435.5" y="-95.6" width="6.36" height="6.36"/><rect x="436.5" y="-97.0" width="6.36" height="6.36"/><rect x="437.5" y="-98.5" width="6.36" height="6.36"/><rect x="438.6" y="-99.9" width="6.36" height="6.36"/><rect x="439.6" y="-101.3" width="6.36" height="6.36"/><rect x="440.7" y="-102.7" width="6.36" height="6.36"/><rect x="441.8" y="-104.0" width="6.36" height="6.36"/><rect x="442.9" y="-105.4" width="6.36" height="6.36"/><rect x="444.0" y="-106.8" width="6.36" height="6.36"/><rect x="445.2" y="-108.1" width="6.36" height="6.36"/><rect x="446.3" y="-109.4" width="6.36" height="6.36"/><rect x="447.4" y="-110.7" width="6.36" height="6.36"/><rect x="448.6" y="-112.0" width="6.36" height="6.36"/><rect x="449.8" y="-113.3" width="6.36" height="6.36"/><rect x="451.0" y="-114.6" width="6.36" height="6.36"/><rect x="452.1" y="-115.9" width="6.36" height="6.36"/><rect x="453.4" y="-117.1" width="6.36" height="6.36"/><rect x="454.6" y="-118.4" width="6.36" height="6.36"/><rect x="455.8" y="-119.6" width="6.36" height="6.36"/><rect x="457.0" y="-120.9" width="6.36" height="6.36"/><rect x="458.3" y="-122.1" width="6.36" height="6.36"/><rect x="459.5" y="-123.3" width="6.36" height="6.36"/><rect x="460.8" y="-124.5" width="6.36" height="6.36"/><rect x="462.1" y="-125.7" width="6.36" height="6.36"/><rect x="463.4" y="-126.8" width="6.36" height="6.36"/><rect x="464.7" y="-128.0" width="6.36" height="6.36"/><rect x="466.0" y="-129.2" width="6.36" height="6.36"/><rect x="467.3" y="-130.3" width="6.36" height="6.36"/><rect x="468.6" y="-131.4" width="6.36" height="6.36"/><rect x="470.0" y="-132.6" width="6.36" height="6.36"/><rect x="471.3" y="-133.7" width="6.36" height="6.36"/><rect x="472.7" y="-134.8" width="6.36" height="6.36"/><rect x="474.1" y="-135.8" width="6.36" height="6.36"/><rect x="475.6" y="-136.8" width="6.36" height="6.36"/><rect x="477.1" y="-137.8" width="6.36" height="6.36"/><rect x="478.6" y="-138.8" width="6.36" height="6.36"/><rect x="480.0" y="-139.8" width="6.36" height="6.36"/><rect x="481.5" y="-140.7" width="6.36" height="6.36"/><rect x="483.1" y="-141.7" width="6.36" height="6.36"/><rect x="484.6" y="-142.6" width="6.36" height="6.36"/><rect x="486.1" y="-143.5" width="6.36" height="6.36"/><rect x="487.7" y="-144.5" width="6.36" height="6.36"/><rect x="489.2" y="-145.4" width="6.36" height="6.36"/><rect x="490.7" y="-146.3" width="6.36" height="6.36"/><rect x="492.3" y="-147.2" width="6.36" height="6.36"/><rect x="493.8" y="-148.2" width="6.36" height="6.36"/><rect x="495.4" y="-149.1" width="6.36" height="6.36"/><rect x="496.9" y="-150.0" width="6.36" height="6.36"/><rect x="498.5" y="-150.9" width="6.36" height="6.36"/><rect x="500.0" y="-151.8" width="6.36" height="6.36"/><rect x="501.6" y="-152.7" width="6.36" height="6.36"/><rect x="503.2" y="-153.6" width="6.36" height="6.36"/><rect x="504.8" y="-154.4" width="6.36" height="6.36"/><rect x="506.4" y="-155.3" width="6.36" height="6.36"/><rect x="508.0" y="-156.1" width="6.36" height="6.36"/><rect x="509.7" y="-157.0" width="6.36" height="6.36"/><rect x="511.3" y="-157.8" width="6.36" height="6.36"/><rect x="512.9" y="-158.6" width="6.36" height="6.36"/><rect x="514.6" y="-159.4" width="6.36" height="6.36"/><rect x="516.2" y="-160.2" width="6.36" height="6.36"/><rect x="517.9" y="-161.0" width="6.36" height="6.36"/><rect x="519.6" y="-161.8" width="6.36" height="6.36"/><rect x="521.3" y="-162.6" width="6.36" height="6.36"/><rect x="523.0" y="-163.4" width="6.36" height="6.36"/><rect x="524.7" y="-164.1" width="6.36" height="6.36"/><rect x="526.4" y="-164.9" width="6.36" height="6.36"/><rect x="528.1" y="-165.7" width="6.36" height="6.36"/><rect x="529.8" y="-166.4" width="6.36" height="6.36"/><rect x="531.5" y="-167.1" width="6.36" height="6.36"/><rect x="533.3" y="-167.9" width="6.36" height="6.36"/><rect x="535.0" y="-168.6" width="6.36" height="6.36"/><rect x="536.7" y="-169.3" width="6.36" height="6.36"/><rect x="538.5" y="-170.1" width="6.36" height="6.36"/><rect x="540.2" y="-170.8" width="6.36" height="6.36"/><rect x="541.9" y="-171.5" width="6.36" height="6.36"/><rect x="543.7" y="-172.3" width="6.36" height="6.36"/><rect x="545.4" y="-173.0" width="6.36" height="6.36"/><rect x="547.2" y="-173.7" width="6.36" height="6.36"/><rect x="548.9" y="-174.4" width="6.36" height="6.36"/><rect x="550.6" y="-175.1" width="6.36" height="6.36"/><rect x="552.4" y="-175.9" width="6.36" height="6.36"/><rect x="554.1" y="-176.6" width="6.36" height="6.36"/><rect x="555.9" y="-177.3" width="6.36" height="6.36"/><rect x="557.6" y="-178.0" width="6.36" height="6.36"/><rect x="559.3" y="-178.8" width="6.36" height="6.36"/><rect x="561.1" y="-179.5" width="6.36" height="6.36"/><rect x="562.8" y="-180.2" width="6.36" height="6.36"/><rect x="564.5" y="-181.0" width="6.36" height="6.36"/><rect x="566.2" y="-181.7" width="6.36" height="6.36"/><rect x="568.0" y="-182.5" width="6.36" height="6.36"/><rect x="569.7" y="-183.2" width="6.36" height="6.36"/><rect x="571.4" y="-184.0" width="6.36" height="6.36"/><rect x="573.1" y="-184.8" width="6.36" height="6.36"/><rect x="574.8" y="-185.5" width="6.36" height="6.36"/><rect x="576.4" y="-186.3" width="6.36" height="6.36"/><rect x="578.1" y="-187.1" width="6.36" height="6.36"/><rect x="579.8" y="-187.9" width="6.36" height="6.36"/><rect x="581.4" y="-188.7" width="6.36" height="6.36"/><rect x="583.1" y="-189.5" width="6.36" height="6.36"/><rect x="584.7" y="-190.4" width="6.36" height="6.36"/><rect x="586.4" y="-191.2" width="6.36" height="6.36"/><rect x="588.0" y="-192.0" width="6.36" height="6.36"/><rect x="589.6" y="-192.9" width="6.36" height="6.36"/><rect x="591.2" y="-193.8" width="6.36" height="6.36"/><rect x="592.8" y="-194.6" width="6.36" height="6.36"/><rect x="594.4" y="-195.5" width="6.36" height="6.36"/><rect x="595.9" y="-196.4" width="6.36" height="6.36"/><rect x="597.5" y="-197.4" width="6.36" height="6.36"/><rect x="599.0" y="-198.3" width="6.36" height="6.36"/><rect x="600.5" y="-199.2" width="6.36" height="6.36"/><rect x="602.0" y="-200.2" width="6.36" height="6.36"/><rect x="603.5" y="-201.2" width="6.36" height="6.36"/><rect x="605.0" y="-202.2" width="6.36" height="6.36"/><rect x="606.4" y="-203.2" width="6.36" height="6.36"/><rect x="607.9" y="-204.2" width="6.36" height="6.36"/><rect x="609.3" y="-205.2" width="6.36" height="6.36"/><rect x="610.8" y="-206.2" width="6.36" height="6.36"/><rect x="612.2" y="-207.3" width="6.36" height="6.36"/><rect x="613.6" y="-208.3" width="6.36" height="6.36"/><rect x="615.0" y="-209.4" width="6.36" height="6.36"/><rect x="616.4" y="-210.5" width="6.36" height="6.36"/><rect x="617.7" y="-211.6" width="6.36" height="6.36"/><rect x="619.1" y="-212.7" width="6.36" height="6.36"/><rect x="620.4" y="-213.8" width="6.36" height="6.36"/><rect x="621.8" y="-215.0" width="6.36" height="6.36"/><rect x="623.1" y="-216.1" width="6.36" height="6.36"/><rect x="624.4" y="-217.2" width="6.36" height="6.36"/><rect x="625.7" y="-218.4" width="6.36" height="6.36"/><rect x="627.0" y="-219.6" width="6.36" height="6.36"/><rect x="628.3" y="-220.8" width="6.36" height="6.36"/><rect x="629.6" y="-221.9" width="6.36" height="6.36"/><rect x="630.8" y="-223.1" width="6.36" height="6.36"/><rect x="632.1" y="-224.4" width="6.36" height="6.36"/><rect x="633.3" y="-225.6" width="6.36" height="6.36"/><rect x="634.6" y="-226.8" width="6.36" height="6.36"/><rect x="635.8" y="-228.0" width="6.36" height="6.36"/><rect x="637.0" y="-229.3" width="6.36" height="6.36"/><rect x="638.2" y="-230.5" width="6.36" height="6.36"/><rect x="639.4" y="-231.8" width="6.36" height="6.36"/><rect x="640.6" y="-233.1" width="6.36" height="6.36"/><rect x="641.8" y="-234.3" width="6.36" height="6.36"/><rect x="643.0" y="-235.6" width="6.36" height="6.36"/><rect x="644.2" y="-236.9" width="6.36" height="6.36"/><rect x="645.3" y="-238.2" width="6.36" height="6.36"/><rect x="646.5" y="-239.5" width="6.36" height="6.36"/><rect x="647.7" y="-240.8" width="6.36" height="6.36"/><rect x="648.8" y="-242.1" width="6.36" height="6.36"/><rect x="650.0" y="-243.5" width="6.36" height="6.36"/><rect x="651.1" y="-244.8" width="6.36" height="6.36"/><rect x="652.2" y="-246.1" width="6.36" height="6.36"/><rect x="653.4" y="-247.5" width="6.36" height="6.36"/><rect x="654.5" y="-248.8" width="6.36" height="6.36"/><rect x="655.6" y="-250.1" width="6.36" height="6.36"/><rect x="656.7" y="-251.5" width="6.36" height="6.36"/><rect x="657.8" y="-252.9" width="6.36" height="6.36"/><rect x="658.9" y="-254.2" width="6.36" height="6.36"/><rect x="660.0" y="-255.6" width="6.36" height="6.36"/><rect x="661.1" y="-257.0" width="6.36" height="6.36"/><rect x="662.2" y="-258.3" width="6.36" height="6.36"/><rect x="663.3" y="-259.7" width="6.36" height="6.36"/><rect x="664.4" y="-261.1" width="6.36" height="6.36"/><rect x="665.5" y="-262.5" width="6.36" height="6.36"/><rect x="666.5" y="-263.8" width="6.36" height="6.36"/><rect x="667.6" y="-265.2" width="6.36" height="6.36"/><rect x="668.7" y="-266.6" width="6.36" height="6.36"/><rect x="669.8" y="-268.0" width="6.36" height="6.36"/><rect x="670.9" y="-269.4" width="6.36" height="6.36"/><rect x="671.9" y="-270.8" width="6.36" height="6.36"/><rect x="673.0" y="-272.1" width="6.36" height="6.36"/><rect x="674.1" y="-273.5" width="6.36" height="6.36"/><rect x="675.2" y="-274.9" width="6.36" height="6.36"/><rect x="676.3" y="-276.3" width="6.36" height="6.36"/><rect x="677.3" y="-277.7" width="6.36" height="6.36"/><rect x="678.4" y="-279.1" width="6.36" height="6.36"/><rect x="679.5" y="-280.5" width="6.36" height="6.36"/><rect x="680.6" y="-281.8" width="6.36" height="6.36"/><rect x="681.7" y="-283.2" width="6.36" height="6.36"/><rect x="682.8" y="-284.6" width="6.36" height="6.36"/><rect x="683.9" y="-286.0" width="6.36" height="6.36"/><rect x="685.0" y="-287.3" width="6.36" height="6.36"/><rect x="686.1" y="-288.7" width="6.36" height="6.36"/><rect x="687.2" y="-290.1" width="6.36" height="6.36"/><rect x="688.3" y="-291.4" width="6.36" height="6.36"/><rect x="689.4" y="-292.8" width="6.36" height="6.36"/><rect x="690.5" y="-294.1" width="6.36" height="6.36"/><rect x="691.6" y="-295.5" width="6.36" height="6.36"/><rect x="692.7" y="-296.8" width="6.36" height="6.36"/><rect x="693.9" y="-298.1" width="6.36" height="6.36"/><rect x="695.0" y="-299.5" width="6.36" height="6.36"/><rect x="696.2" y="-300.8" width="6.36" height="6.36"/><rect x="697.3" y="-302.1" width="6.36" height="6.36"/><rect x="698.5" y="-303.4" width="6.36" height="6.36"/><rect x="699.6" y="-304.7" width="6.36" height="6.36"/><rect x="700.8" y="-306.0" width="6.36" height="6.36"/><rect x="702.0" y="-307.3" width="6.36" height="6.36"/><rect x="703.1" y="-308.6" width="6.36" height="6.36"/><rect x="704.3" y="-309.9" width="6.36" height="6.36"/><rect x="705.5" y="-311.1" width="6.36" height="6.36"/><rect x="706.8" y="-312.4" width="6.36" height="6.36"/><rect x="708.0" y="-313.6" width="6.36" height="6.36"/><rect x="709.2" y="-314.9" width="6.36" height="6.36"/><rect x="710.4" y="-316.1" width="6.36" height="6.36"/><rect x="711.7" y="-317.3" width="6.36" height="6.36"/><rect x="712.9" y="-318.5" width="6.36" height="6.36"/><rect x="714.2" y="-319.7" width="6.36" height="6.36"/><rect x="715.5" y="-320.9" width="6.36" height="6.36"/><rect x="716.8" y="-322.1" width="6.36" height="6.36"/><rect x="718.1" y="-323.2" width="6.36" height="6.36"/><rect x="719.4" y="-324.4" width="6.36" height="6.36"/><rect x="733.2" y="-335.3" width="6.36" height="6.36"/><rect x="734.6" y="-336.3" width="6.36" height="6.36"/><rect x="737.6" y="-338.3" width="6.36" height="6.36"/><rect x="739.1" y="-339.2" width="6.36" height="6.36"/><rect x="740.6" y="-340.2" width="6.36" height="6.36"/><rect x="743.6" y="-342.0" width="6.36" height="6.36"/><rect x="745.2" y="-342.9" width="6.36" height="6.36"/><rect x="746.8" y="-343.8" width="6.36" height="6.36"/><rect x="750.0" y="-345.5" width="6.36" height="6.36"/><rect x="751.6" y="-346.4" width="6.36" height="6.36"/><rect x="754.9" y="-348.0" width="6.36" height="6.36"/><rect x="761.7" y="-351.1" width="6.36" height="6.36"/><rect x="767.0" y="-353.2" width="6.36" height="6.36"/><rect x="770.5" y="-354.6" width="6.36" height="6.36"/><rect x="776.9" y="-356.8" width="6.36" height="6.36"/><rect x="781.6" y="-358.3" width="6.36" height="6.36"/><rect x="787.3" y="-360.0" width="6.36" height="6.36"/><rect x="793.1" y="-361.6" width="6.36" height="6.36"/><rect x="799.0" y="-363.1" width="6.36" height="6.36"/><rect x="805.0" y="-364.5" width="6.36" height="6.36"/><rect x="811.1" y="-365.7" width="6.36" height="6.36"/><rect x="815.3" y="-366.6" width="6.36" height="6.36"/><rect x="821.5" y="-367.7" width="6.36" height="6.36"/><rect x="825.7" y="-368.4" width="6.36" height="6.36"/><rect x="845.1" y="-371.3" width="6.36" height="6.36"/><rect x="846.1" y="-371.4" width="6.36" height="6.36"/><rect x="856.0" y="-372.6" width="6.36" height="6.36"/><rect x="866.1" y="-373.7" width="6.36" height="6.36"/><rect x="871.7" y="-374.2" width="6.36" height="6.36"/><rect x="876.2" y="-374.7" width="6.36" height="6.36"/><rect x="881.8" y="-375.2" width="6.36" height="6.36"/><rect x="885.2" y="-375.5" width="6.36" height="6.36"/><rect x="887.5" y="-375.7" width="6.36" height="6.36"/><rect x="889.8" y="-375.9" width="6.36" height="6.36"/><rect x="892.1" y="-376.0" width="6.36" height="6.36"/><rect x="894.3" y="-376.2" width="6.36" height="6.36"/><rect x="896.6" y="-376.4" width="6.36" height="6.36"/><rect x="912.7" y="-377.6" width="6.36" height="6.36"/><rect x="928.8" y="-378.7" width="6.36" height="6.36"/><rect x="935.7" y="-379.2" width="6.36" height="6.36"/><rect x="940.3" y="-379.6" width="6.36" height="6.36"/><rect x="944.9" y="-379.9" width="6.36" height="6.36"/><rect x="949.5" y="-380.2" width="6.36" height="6.36"/><rect x="951.8" y="-380.4" width="6.36" height="6.36"/><rect x="954.1" y="-380.6" width="6.36" height="6.36"/><rect x="956.4" y="-380.8" width="6.36" height="6.36"/><rect x="958.6" y="-380.9" width="6.36" height="6.36"/><rect x="981.5" y="-382.7" width="6.36" height="6.36"/><rect x="983.8" y="-382.9" width="6.36" height="6.36"/><rect x="987.2" y="-383.2" width="6.36" height="6.36"/><rect x="995.1" y="-383.9" width="6.36" height="6.36"/><rect x="1005.3" y="-384.8" width="6.36" height="6.36"/><rect x="1026.7" y="-386.8" width="6.36" height="6.36"/><rect x="1049.1" y="-389.1" width="6.36" height="6.36"/><rect x="1055.7" y="-389.8" width="6.36" height="6.36"/><rect x="1071.2" y="-391.6" width="6.36" height="6.36"/><rect x="1094.2" y="-394.5" width="6.36" height="6.36"/><rect x="1097.5" y="-394.9" width="6.36" height="6.36"/><rect x="1114.8" y="-397.4" width="6.36" height="6.36"/><rect x="1121.2" y="-398.3" width="6.36" height="6.36"/><rect x="1136.1" y="-400.7" width="6.36" height="6.36"/><rect x="1138.2" y="-401.0" width="6.36" height="6.36"/><rect x="1142.4" y="-401.7" width="6.36" height="6.36"/><rect x="1219.4" y="-416.3" width="6.36" height="6.36"/><rect x="1257.1" y="-426.4" width="6.36" height="6.36"/><rect x="1315.4" y="-442.0" width="6.36" height="6.36"/><rect x="1370.5" y="-463.1" width="6.36" height="6.36"/><rect x="1471.3" y="-509.9" width="6.36" height="6.36"/></g>
<text class="ax" font-size="67.3" transform="translate(48.1 622.14) rotate(-90)" textLength="130.83" lengthAdjust="spacingAndGlyphs">ZOL</text><text class="ax" font-size="67.3" transform="translate(48.1 476.51) rotate(-90)" textLength="146.02" lengthAdjust="spacingAndGlyphs">Fever</text><text class="ax" font-size="67.3" transform="translate(48.1 313.02) rotate(-90)" textLength="118.02" lengthAdjust="spacingAndGlyphs">Risk</text>
<text class="ax" font-size="67.3" x="408.88" y="1013.7" textLength="172.13" lengthAdjust="spacingAndGlyphs">Serum</text><text class="ax" font-size="67.3" x="593.46" y="1013.7" textLength="258.08" lengthAdjust="spacingAndGlyphs">25(OH)D</text><text class="ax" font-size="67.3" x="866.97" y="1013.7" textLength="144.54" lengthAdjust="spacingAndGlyphs">Level</text><text class="ax" font-size="67.3" x="1030.45" y="1013.7" textLength="213.10" lengthAdjust="spacingAndGlyphs">(ng/mL)</text>
</svg>
</body></html>
